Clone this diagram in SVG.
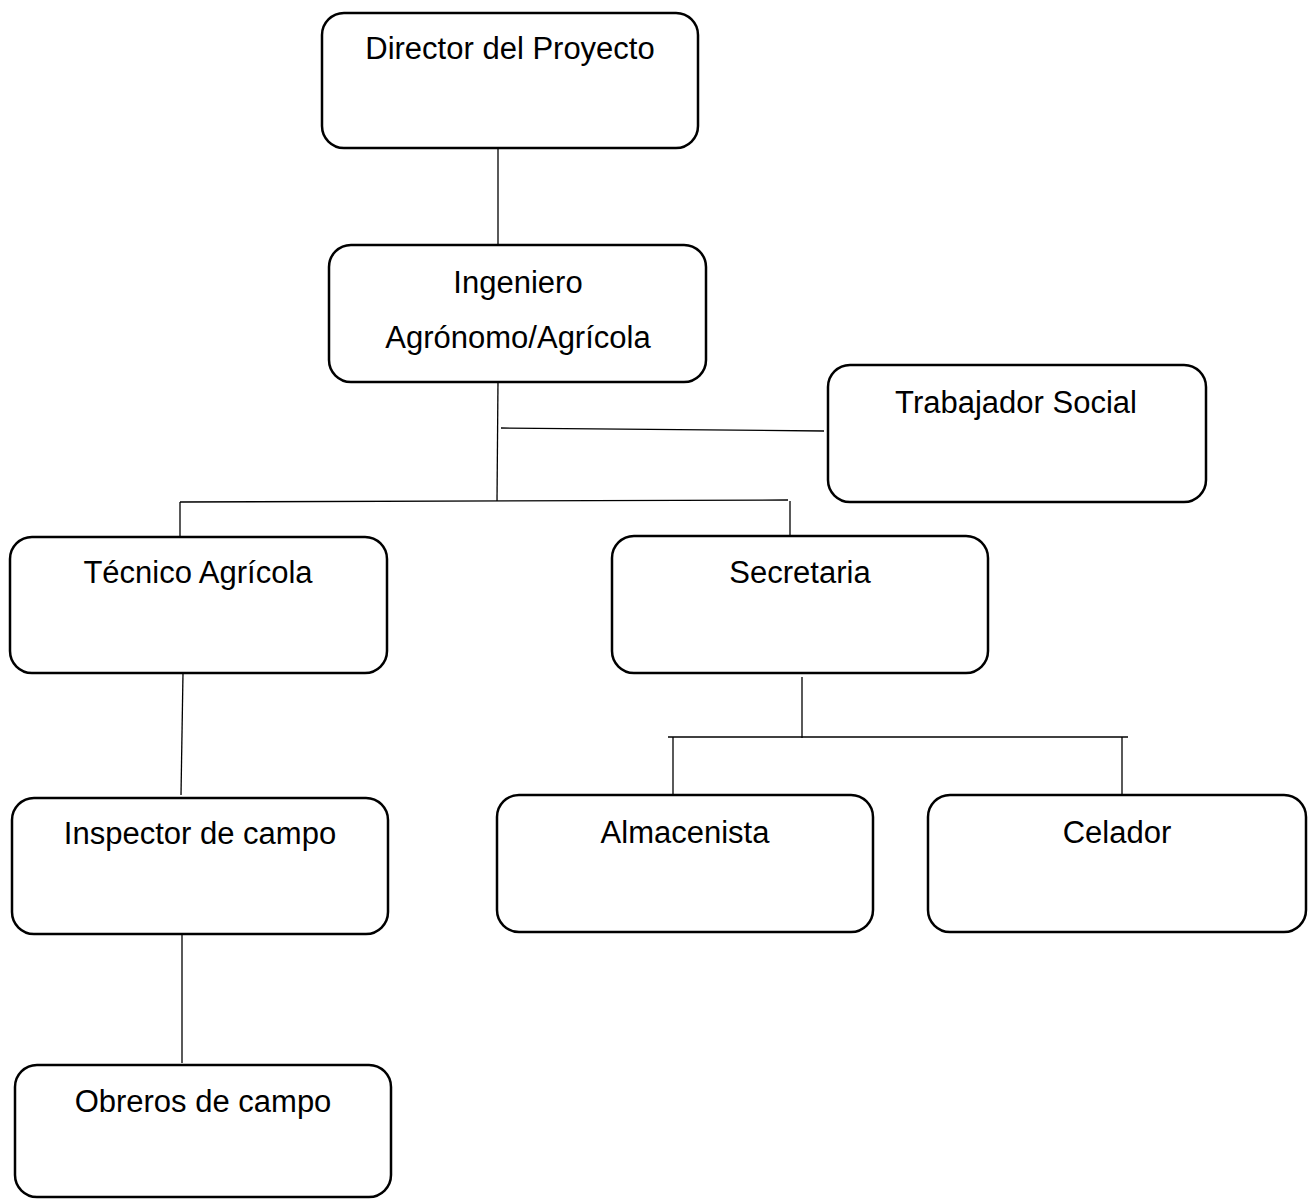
<svg xmlns="http://www.w3.org/2000/svg" width="1314" height="1199" viewBox="0 0 1314 1199">
<style>
.box{fill:#fff;stroke:#000;stroke-width:2.5}
.lbl{font-family:"Liberation Sans",Arial,sans-serif;font-size:31px;fill:#000;text-anchor:middle}
.ln{stroke:#000;stroke-width:1.3;fill:none}
</style>
<rect width="1314" height="1199" fill="#fff"/>
<g id="connectors">
<line class="ln" x1="498" y1="148" x2="498" y2="246"/>
<line class="ln" x1="498" y1="380" x2="497" y2="501"/>
<line class="ln" x1="501" y1="428" x2="824" y2="431"/>
<line class="ln" x1="180" y1="502" x2="788" y2="500"/>
<line class="ln" x1="180" y1="502" x2="180" y2="537"/>
<line class="ln" x1="790" y1="501" x2="790" y2="540"/>
<line class="ln" x1="183" y1="673" x2="181" y2="795"/>
<line class="ln" x1="182" y1="934" x2="182" y2="1063"/>
<line class="ln" x1="802" y1="677" x2="802" y2="738"/>
<line class="ln" x1="668" y1="737" x2="1128" y2="737"/>
<line class="ln" x1="673" y1="737" x2="673" y2="798"/>
<line class="ln" x1="1122" y1="737" x2="1122" y2="797"/>
</g>
<g id="director">
<rect class="box" x="322" y="13" width="376" height="135" rx="22"/>
<text class="lbl" x="510" y="59">Director del Proyecto</text>
</g>
<g id="ingeniero">
<rect class="box" x="329" y="245" width="377" height="137" rx="22"/>
<text class="lbl" x="518" y="293">Ingeniero</text>
<text class="lbl" x="518" y="348">Agrónomo/Agrícola</text>
</g>
<g id="trabajador">
<rect class="box" x="828" y="365" width="378" height="137" rx="22"/>
<text class="lbl" x="1016" y="413">Trabajador Social</text>
</g>
<g id="tecnico">
<rect class="box" x="10" y="537" width="377" height="136" rx="22"/>
<text class="lbl" x="198" y="583">Técnico Agrícola</text>
</g>
<g id="secretaria">
<rect class="box" x="612" y="536" width="376" height="137" rx="22"/>
<text class="lbl" x="800" y="583">Secretaria</text>
</g>
<g id="inspector">
<rect class="box" x="12" y="798" width="376" height="136" rx="22"/>
<text class="lbl" x="200" y="844">Inspector de campo</text>
</g>
<g id="almacenista">
<rect class="box" x="497" y="795" width="376" height="137" rx="22"/>
<text class="lbl" x="685" y="843">Almacenista</text>
</g>
<g id="celador">
<rect class="box" x="928" y="795" width="378" height="137" rx="22"/>
<text class="lbl" x="1117" y="843">Celador</text>
</g>
<g id="obreros">
<rect class="box" x="15" y="1065" width="376" height="132" rx="22"/>
<text class="lbl" x="203" y="1112">Obreros de campo</text>
</g>
</svg>
